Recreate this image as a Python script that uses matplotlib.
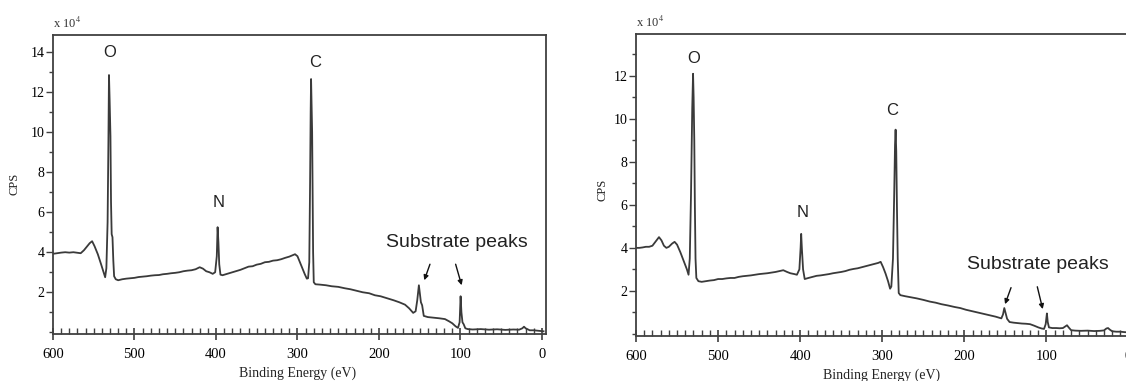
import matplotlib
matplotlib.use("Agg")
import matplotlib.pyplot as plt
from matplotlib.ticker import MultipleLocator

# ---------------- data (CPS in units of 1e4) ----------------
left_energy = [600, 595, 590, 585, 580, 575, 570, 566, 562, 558, 555, 552, 549, 545, 541, 538, 536,
               534.5, 533, 532, 531.3, 530.5, 529.5, 528.8, 528, 527, 526, 525, 523, 520, 515, 510,
               505, 500, 495, 490, 485, 480, 475, 470, 465, 460, 455, 450, 445, 440, 435, 430, 425,
               420, 416, 412, 408, 404, 401, 399, 398, 397, 396, 394.5, 392, 388, 384, 380, 375, 370,
               365, 360, 355, 350, 345, 340, 335, 330, 325, 320, 315, 310, 306, 303, 300, 297, 294,
               291, 288.5, 287, 285.5, 284.5, 283.8, 283.3, 282.6, 282, 281.4, 280.8, 280, 278, 272,
               265, 258, 250, 242, 235, 228, 220, 212, 205, 198, 190, 182, 175, 168, 163, 158, 155,
               153, 151, 150, 148.5, 147, 145, 140, 133, 126, 119, 114, 110, 106, 103, 101, 99.8,
               98.8, 97.5, 96, 94, 91, 85, 75, 65, 55, 45, 35, 28, 24, 22, 20, 15, 10, 5, 0, -2]
left_cps = [3.92, 3.95, 3.98, 4.0, 3.98, 4.0, 3.97, 3.95, 4.1, 4.3, 4.45, 4.55, 4.3, 3.9, 3.4, 3.0, 2.75,
            3.2, 5.5, 9.5, 12.85, 11.6, 9.8, 6.5, 4.9, 4.75, 3.6, 2.8, 2.65, 2.6, 2.65, 2.68,
            2.7, 2.72, 2.76, 2.78, 2.8, 2.83, 2.85, 2.86, 2.9, 2.92, 2.95, 2.97, 3.0, 3.05, 3.08, 3.1, 3.15,
            3.25, 3.18, 3.05, 3.0, 2.92, 3.0, 3.8, 5.25, 4.5, 3.4, 2.88, 2.85, 2.9, 2.95, 3.0, 3.06, 3.12,
            3.2, 3.28, 3.3, 3.38, 3.42, 3.5, 3.52, 3.58, 3.6, 3.65, 3.72, 3.78, 3.85, 3.9, 3.8, 3.5, 3.2,
            2.9, 2.68, 2.7, 3.5, 7.5, 11.0, 12.65, 11.3, 10.0, 7.0, 4.0, 2.5, 2.4, 2.38,
            2.35, 2.3, 2.27, 2.2, 2.15, 2.08, 2.0, 1.95, 1.85, 1.8, 1.7, 1.6, 1.5, 1.38, 1.2, 0.97, 1.05,
            1.6, 2.35, 2.0, 1.5, 1.35, 0.82, 0.76, 0.73, 0.7, 0.66, 0.55, 0.45, 0.3, 0.22, 0.5, 1.8,
            1.0, 0.5, 0.4, 0.2, 0.16, 0.14, 0.16, 0.13, 0.15, 0.12, 0.14, 0.13, 0.2, 0.28, 0.2, 0.1, 0.1, 0.08, 0.06, 0.05]

right_energy = [600, 596, 592, 588, 584, 580, 576, 572, 569, 566, 563, 560, 556, 553, 550, 546, 542, 538,
                536, 534.5, 533, 531.5, 530.5, 529.8, 529, 528.3, 527.5, 526.5, 524, 520, 515, 510, 505,
                500, 495, 490, 485, 480, 475, 470, 465, 460, 455, 450, 445, 440, 435, 430, 425, 420.6,
                416, 412, 407, 404, 401, 399.5, 398.8, 398, 396.5, 394.5, 390, 385, 380, 375, 370, 365,
                360, 355, 350, 345, 340, 335, 330, 325, 320, 315, 310, 305, 302, 299, 296, 293, 290.5,
                289, 287, 285.5, 284.5, 283.8, 283, 282.2, 281.2, 280, 278, 272, 265, 258, 250, 242, 235,
                228, 220, 212, 205, 198, 190, 182, 175, 168, 162, 157, 155, 153, 151.4, 150, 148, 145,
                140, 135, 130, 125, 120, 115, 110, 106, 103, 101, 99.5, 98.5, 97, 93, 88, 84, 80, 77, 75,
                73, 70, 65, 58, 50, 42, 35, 30, 27, 25, 23, 20, 15, 10, 5, 0, -3]
right_cps = [4.0, 4.0, 4.02, 4.05, 4.05, 4.1, 4.3, 4.5, 4.35, 4.1, 4.0, 4.05, 4.2, 4.28, 4.15, 3.8, 3.4, 3.0,
             2.75, 3.5, 6.5, 10.5, 12.1, 11.0, 9.0, 6.0, 3.5, 2.6, 2.45, 2.42, 2.45, 2.48, 2.5,
             2.55, 2.55, 2.58, 2.6, 2.6, 2.65, 2.68, 2.7, 2.72, 2.75, 2.78, 2.8, 2.82, 2.85, 2.88, 2.92, 2.96,
             2.88, 2.82, 2.78, 2.75, 3.0, 4.0, 4.65, 4.0, 3.0, 2.55, 2.6, 2.65, 2.7, 2.72, 2.75, 2.78,
             2.82, 2.85, 2.88, 2.92, 2.98, 3.02, 3.05, 3.1, 3.15, 3.2, 3.25, 3.3, 3.35, 3.1, 2.8, 2.45, 2.1,
             2.2, 3.5, 6.5, 8.8, 9.5, 8.5, 6.0, 3.5, 1.9, 1.8, 1.75, 1.7, 1.65, 1.58, 1.5, 1.45,
             1.38, 1.32, 1.25, 1.2, 1.12, 1.05, 0.98, 0.92, 0.86, 0.8, 0.74, 0.72, 0.9, 1.2, 1.0, 0.7, 0.55,
             0.52, 0.5, 0.48, 0.47, 0.45, 0.38, 0.3, 0.25, 0.23, 0.45, 0.95, 0.55, 0.3, 0.27, 0.27, 0.26, 0.27, 0.35, 0.4,
             0.3, 0.17, 0.15, 0.14, 0.15, 0.13, 0.14, 0.16, 0.25, 0.27, 0.2, 0.12, 0.1, 0.1, 0.08, 0.07, 0.07]

x_ticks = [600, 500, 400, 300, 200, 100, 0]
left_yticks = [2, 4, 6, 8, 10, 12, 14]
right_yticks = [2, 4, 6, 8, 10, 12]

# element labels: (text, energy, cps)
left_labels = [("O", 530, 14.0), ("C", 278.5, 13.5), ("N", 396.3, 6.5)]
right_labels = [("O", 530.2, 12.8), ("C", 288.6, 10.4), ("N", 396.6, 5.63)]
left_sub = (104.7, 4.5)
right_sub = (110.4, 3.24)
# arrows: (tail_E, tail_cps, tip_E, tip_cps)
left_arrows = [(137.4, 3.4, 144.4, 2.6), (105.9, 3.4, 98.5, 2.35)]
right_arrows = [(143.2, 2.15, 150.5, 1.38), (111.2, 2.19, 104.6, 1.15)]

# ---------------- figure ----------------
W, H = 1126, 381
fig = plt.figure(figsize=(W / 100, H / 100), dpi=100)
fig.patch.set_facecolor("white")

serif = "Liberation Serif"
sans = "Liberation Sans"
plt.rcParams["mathtext.fontset"] = "stix"

ax1 = fig.add_axes([53 / W, 1 - 334.3 / H, (546 - 53) / W, (334.3 - 35) / H])
ax2 = fig.add_axes([636 / W, 1 - 336 / H, 496.7 / W, (336 - 34) / H])

line_col = "#3a3a3a"
spine_col = "#404040"


def style(ax, energy, cps, ylim, yticks, labels, sub, arrows):
    ax.plot(energy, cps, color=line_col, lw=1.3)
    ax.set_xlim(600, -5)
    ax.set_ylim(*ylim)
    ax.set_xticks(x_ticks)
    ax.set_xticklabels([str(t) for t in x_ticks], fontfamily=serif, fontsize=10.5)
    ax.set_yticks(yticks)
    ax.set_yticklabels([str(t) for t in yticks], fontfamily=serif, fontsize=10)
    ax.xaxis.set_minor_locator(MultipleLocator(10))
    ax.yaxis.set_minor_locator(MultipleLocator(1))
    ax.tick_params(axis="x", which="major", direction="inout", length=8, width=1.2,
                   color=spine_col, pad=6)
    ax.tick_params(axis="x", which="minor", direction="in", length=4, width=1.0, color=spine_col)
    ax.tick_params(axis="y", which="major", direction="out", length=5, width=1.0,
                   color=spine_col, pad=1)
    ax.tick_params(axis="y", which="minor", direction="out", length=3, width=1.0, color=spine_col)
    for s in ax.spines.values():
        s.set_color(spine_col)
        s.set_linewidth(1.3)
    for t, e, c in labels:
        ax.text(e, c, t, ha="center", va="center", fontfamily=sans, fontsize=12, color="#222222")
    ax.text(sub[0], sub[1], "Substrate peaks", ha="center", va="center",
            fontfamily=sans, fontsize=14, color="#222222")
    for te, tc, he, hc in arrows:
        ax.annotate("", xy=(he, hc), xytext=(te, tc),
                    arrowprops=dict(arrowstyle="-|>", color="#111111", lw=1.0,
                                    mutation_scale=7, shrinkA=0, shrinkB=0))
    ax.text(0.0, 1.012, r"x 10$^{4}$", transform=ax.transAxes, ha="left", va="bottom",
            fontfamily=serif, fontsize=9, color="#333333")


style(ax1, left_energy, left_cps, (-0.1, 14.85), left_yticks, left_labels, left_sub, left_arrows)
style(ax2, right_energy, right_cps, (-0.1, 13.95), right_yticks, right_labels, right_sub, right_arrows)

# axis titles
fig.text(298 / W, 1 - 373 / H, "Binding Energy (eV)", ha="center", va="center",
         fontfamily=serif, fontsize=10, color="#222222")
fig.text(882 / W, 1 - 375 / H, "Binding Energy (eV)", ha="center", va="center",
         fontfamily=serif, fontsize=10, color="#222222")
fig.text(15 / W, 1 - 184 / H, "CPS", rotation=90, ha="center", va="center",
         fontfamily=serif, fontsize=9, color="#222222")
fig.text(603 / W, 1 - 190 / H, "CPS", rotation=90, ha="center", va="center",
         fontfamily=serif, fontsize=9, color="#222222")

fig.savefig("out.png", dpi=100, facecolor="white")
